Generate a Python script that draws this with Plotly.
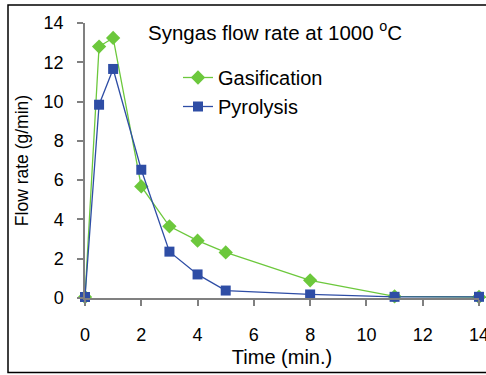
import plotly.graph_objects as go

time_gas = [0, 0.5, 1, 2, 3, 4, 5, 8, 11, 14]
gasification = [0.05, 12.8, 13.24, 5.68, 3.65, 2.92, 2.32, 0.9, 0.08, 0.05]
time_pyr = [0, 0.5, 1, 2, 3, 4, 5, 8, 11, 14]
pyrolysis = [0.05, 9.84, 11.66, 6.53, 2.36, 1.2, 0.38, 0.18, 0.06, 0.06]

x_ticks = [0, 2, 4, 6, 8, 10, 12, 14]
y_ticks = [0, 2, 4, 6, 8, 10, 12, 14]

green = "#6CC83C"
blue = "#2E4DA5"
font = "Liberation Sans, Arial, sans-serif"

fig = go.Figure()
fig.add_trace(go.Scatter(
    x=time_gas, y=gasification, name="Gasification", mode="lines+markers",
    line=dict(color=green, width=1.3),
    marker=dict(symbol="diamond", size=11, color=green),
    cliponaxis=False,
))
fig.add_trace(go.Scatter(
    x=time_pyr, y=pyrolysis, name="Pyrolysis", mode="lines+markers",
    line=dict(color=blue, width=1.3),
    marker=dict(symbol="square", size=10, color=blue),
    cliponaxis=False,
))

L, R, T, B = 85, 7, 23, 77
W, H = 486, 375
pw, ph = W - L - R, H - T - B

def px(x):
    return (x - L) / pw

def py(y):
    return (H - B - y) / ph

fig.update_layout(
    width=W, height=H,
    margin=dict(l=L, r=R, t=T, b=B, autoexpand=False),
    paper_bgcolor="white", plot_bgcolor="white",
    font=dict(family=font, size=18, color="black"),
    showlegend=True,
    legend=dict(x=px(178), y=py(58), xanchor="left", yanchor="top",
                bgcolor="rgba(0,0,0,0)", font=dict(size=20), tracegroupgap=0,
                itemwidth=30),
    xaxis=dict(range=[0, 14], tickvals=x_ticks, showgrid=False, zeroline=False,
               showline=True, linecolor="#808080", linewidth=1.5,
               ticks="outside", ticklen=6, tickcolor="#808080", tickwidth=1.5,
               ticklabelstandoff=14, ticklabeloverflow="allow", automargin=False,
               tickfont=dict(size=18),
               title=dict(text="Time (min.)", standoff=6, font=dict(size=20))),
    yaxis=dict(range=[0, 14], tickvals=y_ticks, showgrid=False, zeroline=False,
               showline=True, linecolor="#808080", linewidth=1.5,
               ticks="outside", ticklen=6, tickcolor="#808080", tickwidth=1.5,
               ticklabelstandoff=10, tickfont=dict(size=18), automargin=False,
               title=dict(text="Flow rate (g/min)", standoff=10, font=dict(size=17.5))),
    annotations=[dict(
        text="Syngas flow rate at 1000 <sup>o</sup>C", x=px(275), y=py(31),
        xref="paper", yref="paper", showarrow=False, font=dict(size=20.5),
        xanchor="center", yanchor="middle")],
    shapes=[dict(type="rect", xref="paper", yref="paper",
                 x0=px(8), x1=px(500), y0=py(372.5), y1=py(5),
                 line=dict(color="black", width=1.5))],
)

fig.write_html("out.html")
